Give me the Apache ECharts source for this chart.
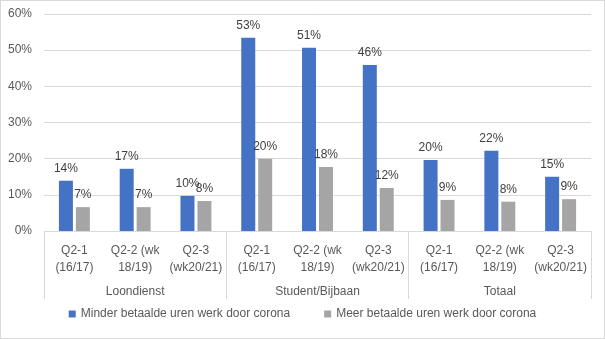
<!DOCTYPE html>
<html>
<head>
<meta charset="utf-8">
<script src="https://cdn.jsdelivr.net/npm/echarts@6/dist/echarts.min.js"></script>
<style>
html,body{margin:0;padding:0;background:#fff;}
#chart{width:605px;height:339px;position:relative;}
#frame{position:absolute;left:0;top:0;width:605px;height:339px;box-sizing:border-box;border:1px solid #d9d9d9;pointer-events:none;}
</style>
</head>
<body>
<div id="chart"></div>
<div id="frame"></div>
<script>
var categories = ['Q2-1\n(16/17)', 'Q2-2 (wk\n18/19)', 'Q2-3\n(wk20/21)',
                  'Q2-1\n(16/17)', 'Q2-2 (wk\n18/19)', 'Q2-3\n(wk20/21)',
                  'Q2-1\n(16/17)', 'Q2-2 (wk\n18/19)', 'Q2-3\n(wk20/21)'];
var groups = ['Loondienst', 'Student/Bijbaan', 'Totaal'];
var seriesNames = ['Minder betaalde uren werk door corona', 'Meer betaalde uren werk door corona'];
var minder = [13.9, 17.2, 9.7, 53.4, 50.7, 45.9, 19.6, 22.2, 15.0];
var meer = [6.6, 6.6, 8.3, 20.0, 17.7, 11.9, 8.6, 8.1, 8.8];
var yTicks = [0, 10, 20, 30, 40, 50, 60];

var font = 'Liberation Sans';
var chart = echarts.init(document.getElementById('chart'), null, {renderer: 'canvas'});
var labelStyle = {
  show: true, position: 'top', distance: 6,
  color: '#404040', fontSize: 12, fontFamily: font,
  formatter: function (p) { return Math.round(p.value) + '%'; }
};
chart.setOption({
  animation: false,
  textStyle: {fontFamily: font},
  grid: {left: 44, right: 14, top: 14, bottom: 108, containLabel: false},
  legend: {
    data: seriesNames, bottom: 14, left: 'center',
    icon: 'rect', itemWidth: 7, itemHeight: 7, itemGap: 34,
    textStyle: {color: '#595959', fontSize: 12, fontFamily: font}
  },
  xAxis: [{
    type: 'category', data: categories, position: 'bottom',
    axisLine: {show: true, lineStyle: {color: '#d9d9d9'}},
    axisTick: {show: false},
    axisLabel: {interval: 0, color: '#595959', fontSize: 12, fontFamily: font, margin: 11, lineHeight: 17}
  }, {
    type: 'category', data: groups, position: 'bottom',
    axisLine: {show: false},
    axisTick: {show: true, length: 68, interval: 0, lineStyle: {color: '#d9d9d9'}},
    axisLabel: {interval: 0, color: '#595959', fontSize: 12, fontFamily: font, margin: 55}
  }],
  yAxis: {
    type: 'value', min: yTicks[0], max: yTicks[yTicks.length - 1], interval: 10,
    axisLine: {show: false}, axisTick: {show: false},
    splitLine: {lineStyle: {color: '#d9d9d9'}},
    axisLabel: {color: '#595959', fontSize: 12, fontFamily: font, margin: 12, formatter: '{value}%'}
  },
  series: [{
    name: seriesNames[0], type: 'bar', data: minder, xAxisIndex: 0,
    barWidth: 14, barGap: '21%', itemStyle: {color: '#4472c4'}, label: labelStyle
  }, {
    name: seriesNames[1], type: 'bar', data: meer, xAxisIndex: 0,
    barWidth: 14, barGap: '21%', itemStyle: {color: '#a5a5a5'}, label: labelStyle
  }]
});
</script>
</body>
</html>
